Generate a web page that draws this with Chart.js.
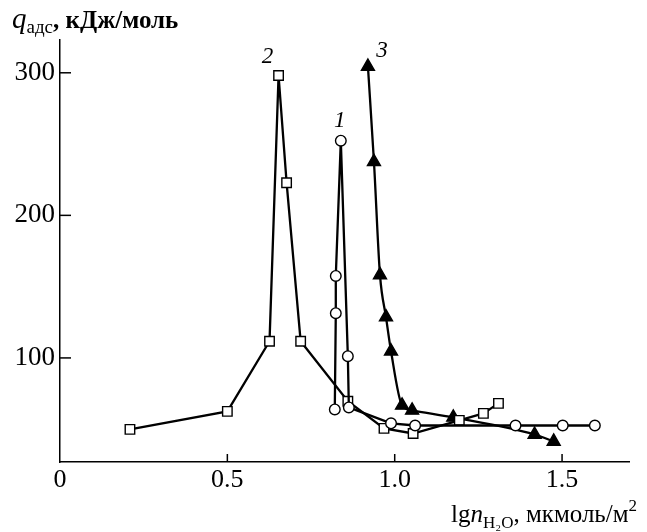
<!DOCTYPE html>
<html>
<head>
<meta charset="utf-8">
<script src="https://cdn.jsdelivr.net/npm/chart.js@4"></script>
<style>
    html, body { margin: 0; padding: 0; background: #fff; }
    #wrap { width: 647px; height: 532px; }
</style>
</head>
<body>
<div id="wrap"><canvas id="chart" width="647" height="532"></canvas></div>
<script>
// curve 1 - open circles
s1_x = [0.821, 0.824, 0.824, 0.839, 0.860, 0.863, 0.989, 1.061, 1.361, 1.502, 1.598];
s1_y = [63.9, 131.4, 157.5, 252.4, 101.2, 65.3, 54.1, 52.6, 52.6, 52.6, 52.6];
// curve 2 - open squares
s2_x = [0.209, 0.500, 0.626, 0.653, 0.677, 0.719, 0.860, 0.968, 1.055, 1.193, 1.265, 1.310];
s2_y = [49.9, 62.5, 111.7, 298.1, 222.9, 111.7, 69.6, 50.6, 47.0, 56.2, 61.1, 68.1];
// curve 3 - filled triangles
s3_x = [0.920, 0.938, 0.956, 0.974, 0.989, 1.022, 1.052, 1.175, 1.418, 1.475];
s3_y = [304.4, 237.6, 158.2, 128.6, 104.7, 66.7, 63.2, 58.3, 46.3, 41.4];

x_ticks = [0, 0.5, 1.0, 1.5];
y_ticks = [100, 200, 300];

// curve numbers, placed in data units
curve_labels = ["1", "2", "3"];
curve_label_x = [0.836, 0.620, 0.962];
curve_label_y = [266, 311, 315];

const SERIF = "'Liberation Serif', 'DejaVu Serif', serif";

function to_points(xs, ys) {
    return xs.map((x, i) => ({x: x, y: ys[i]}));
}

// draws a run of [text, font, dy] pieces one after another
function draw_runs(ctx, x, y, runs) {
    runs.forEach(r => {
        ctx.font = r[1];
        ctx.fillText(r[0], x, y + r[2]);
        x += ctx.measureText(r[0]).width;
    });
}

const extras = {
    id: "extras",
    afterDraw(chart) {
        const ctx = chart.ctx;
        const xs = chart.scales.x, ys = chart.scales.y;
        const area = chart.chartArea;
        ctx.save();
        ctx.strokeStyle = "#000";
        ctx.lineWidth = 1.5;
        // inner tick marks
        x_ticks.forEach(v => {
            if (v == 0) return;
            let px = xs.getPixelForValue(v);
            ctx.beginPath();
            ctx.moveTo(px, area.bottom);
            ctx.lineTo(px, area.bottom - 8);
            ctx.stroke();
        });
        y_ticks.forEach(v => {
            let py = ys.getPixelForValue(v);
            ctx.beginPath();
            ctx.moveTo(area.left, py);
            ctx.lineTo(area.left + 11, py);
            ctx.stroke();
        });
        // curve numbers
        ctx.fillStyle = "#000";
        ctx.textAlign = "center";
        ctx.textBaseline = "middle";
        ctx.font = "italic 23px " + SERIF;
        curve_labels.forEach((t, i) => {
            ctx.fillText(t, xs.getPixelForValue(curve_label_x[i]), ys.getPixelForValue(curve_label_y[i]));
        });
        // axis titles
        ctx.textAlign = "left";
        ctx.textBaseline = "alphabetic";
        draw_runs(ctx, 12, 28, [
            ["q", "italic 29px " + SERIF, 0],
            ["адс", "19px " + SERIF, 5],
            [", кДж/моль", "bold 25px " + SERIF, 0]
        ]);
        draw_runs(ctx, 451, 522, [
            ["lg", "25px " + SERIF, 0],
            ["n", "italic 25px " + SERIF, 0],
            ["H\u2082O", "17px " + SERIF, 6],
            [", мкмоль/м", "25px " + SERIF, 0],
            ["2", "17px " + SERIF, -11]
        ]);
        ctx.restore();
    }
};

document.addEventListener("DOMContentLoaded", function() {
    const common = {
        borderColor: "#000",
        borderWidth: 2.3,
        pointBorderColor: "#000",
        pointBorderWidth: 1.4,
        showLine: true,
        fill: false
    };
    new Chart(document.getElementById("chart").getContext("2d"), {
        type: "scatter",
        data: {
            datasets: [
                Object.assign({}, common, {
                    label: "1",
                    data: to_points(s1_x, s1_y),
                    pointStyle: "circle",
                    pointRadius: 5.3,
                    pointBackgroundColor: "#fff",
                    tension: 0
                }),
                Object.assign({}, common, {
                    label: "2",
                    data: to_points(s2_x, s2_y),
                    pointStyle: "rect",
                    pointRadius: 6.7,
                    pointBackgroundColor: "#fff",
                    tension: 0
                }),
                Object.assign({}, common, {
                    label: "3",
                    data: to_points(s3_x, s3_y),
                    pointStyle: "triangle",
                    pointRadius: 7.5,
                    pointBackgroundColor: "#000",
                    cubicInterpolationMode: "monotone"
                })
            ]
        },
        options: {
            responsive: false,
            maintainAspectRatio: false,
            animation: false,
            layout: { padding: { top: 40, right: 18, left: 0, bottom: 0 } },
            plugins: {
                legend: { display: false },
                tooltip: { enabled: false }
            },
            scales: {
                x: {
                    type: "linear",
                    min: 0,
                    max: 1.7,
                    afterBuildTicks: s => { s.ticks = x_ticks.map(v => ({value: v})); },
                    afterFit: s => { s.height = 70; },
                    grid: { drawOnChartArea: false, drawTicks: false },
                    border: { display: true, color: "#000", width: 1.5 },
                    ticks: {
                        color: "#000",
                        padding: 3,
                        font: { family: SERIF, size: 26 },
                        callback: v => v == 0 ? "0" : v.toFixed(1),
                        maxRotation: 0
                    }
                },
                y: {
                    type: "linear",
                    min: 27,
                    max: 323,
                    afterBuildTicks: s => { s.ticks = y_ticks.map(v => ({value: v})); },
                    afterFit: s => { s.width = 60; },
                    grid: { drawOnChartArea: false, drawTicks: false },
                    border: { display: true, color: "#000", width: 1.5 },
                    ticks: {
                        color: "#000",
                        padding: 5,
                        font: { family: SERIF, size: 27 }
                    }
                }
            }
        },
        plugins: [extras]
    });
});
</script>
</body>
</html>
